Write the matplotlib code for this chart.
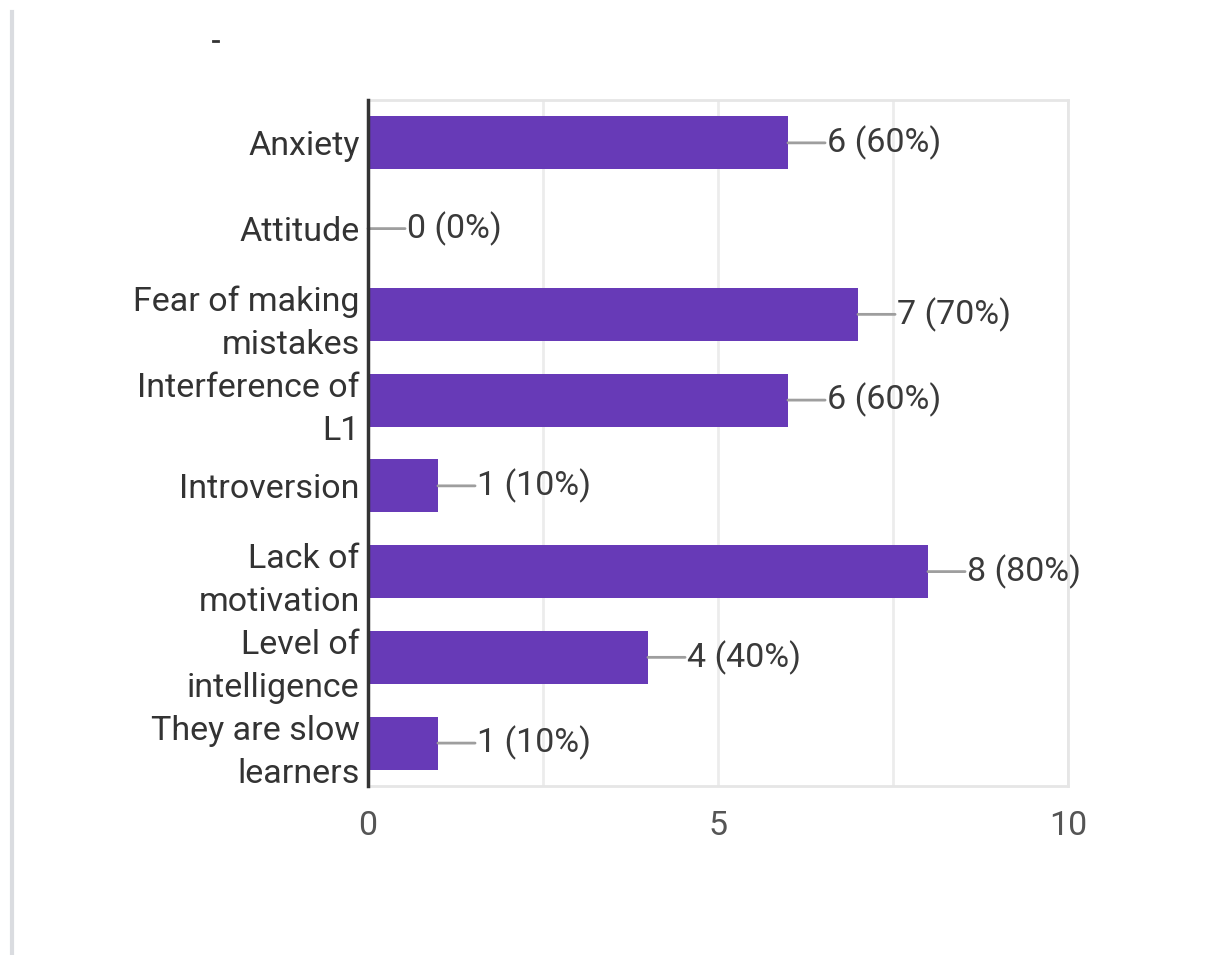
import matplotlib.pyplot as plt
from matplotlib.lines import Line2D

# responses per reason (10 respondents)
reasons = ['Anxiety', 'Attitude', 'Fear of making\nmistakes', 'Interference of\nL1',
           'Introversion', 'Lack of\nmotivation', 'Level of\nintelligence',
           'They are slow\nlearners']
counts = [6, 0, 7, 6, 1, 8, 4, 1]
respondents = 10
xticks = [0, 5, 10]

plt.rcParams['font.family'] = ['Roboto', 'DejaVu Sans']

fig = plt.figure(figsize=(12.08, 9.55), dpi=100)
ax = fig.add_axes([0.3046, 0.177, 0.5795, 0.7183])

ypos = list(range(len(reasons)))
ax.barh(ypos, counts, height=0.62, color='#673ab7', zorder=3)

# leader line + value label at the end of each bar
for y, c in zip(ypos, counts):
    ax.annotate('', xy=(c, y), xytext=(c + 0.53, y),
                arrowprops=dict(arrowstyle='-', color='#9e9e9e', lw=2,
                                shrinkA=0, shrinkB=0), zorder=4)
    ax.text(c + 0.56, y, f'{c} ({c / respondents:.0%})', va='center', ha='left',
            fontsize=24.5, color='#3a3a3a', zorder=5)

ax.set_xlim(0, 10)
ax.set_ylim(len(reasons) - 0.5, -0.5)
ax.set_xticks(xticks)
ax.set_xticks([2.5, 7.5], minor=True)
ax.set_yticks(ypos)
ax.set_yticklabels(reasons, fontsize=24.5, color='#333333', linespacing=1.45)
ax.tick_params(axis='x', which='both', length=0, labelsize=24.5, labelcolor='#555555', pad=17)
ax.tick_params(axis='y', length=0, pad=6)
ax.grid(axis='x', which='both', color='#ececec', lw=2, zorder=0)

for side in ['top', 'bottom', 'right']:
    ax.spines[side].set_color('#e6e6e6')
    ax.spines[side].set_linewidth(2)
ax.spines['left'].set_color('#333333')
ax.spines['left'].set_linewidth(2.5)
ax.spines['left'].set_zorder(6)

# page edge on the left and a stray mark at the top
fig.add_artist(Line2D([12 / 1208, 12 / 1208], [0, 1 - 12 / 955], color='#dadce0', lw=3))
fig.add_artist(Line2D([213 / 1208, 218 / 1208], [1 - 41 / 955, 1 - 41 / 955], color='#333333', lw=2))

fig.savefig('out.png', dpi=100, facecolor='white')
